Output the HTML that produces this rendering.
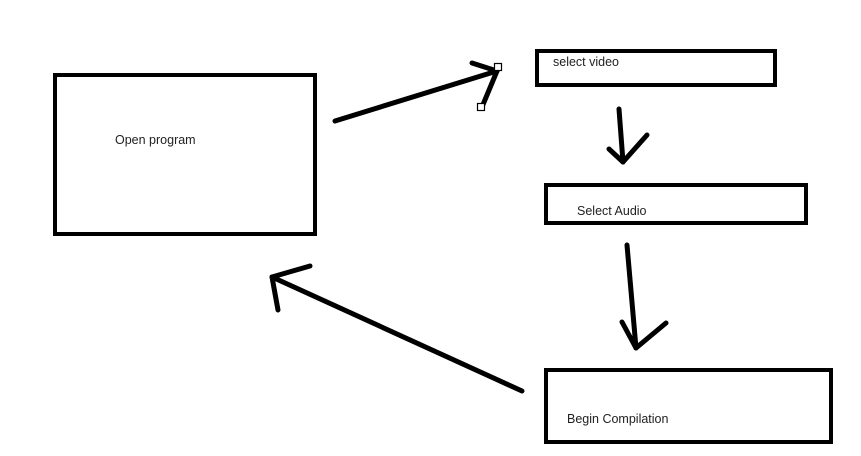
<!DOCTYPE html>
<html><head><style>
html,body{margin:0;padding:0;background:#fff;}
body{width:861px;height:456px;position:relative;overflow:hidden;font-family:"Liberation Sans",sans-serif;}
</style></head><body>
<svg width="861" height="456" style="position:absolute;left:0;top:0">
<g fill="none" stroke="#000" stroke-width="4">
<rect x="55" y="75" width="260" height="159"/>
<rect x="537" y="51" width="238" height="34"/>
<rect x="546" y="185" width="260" height="38"/>
<rect x="546" y="370" width="285" height="72"/>
</g>
<g fill="none" stroke="#000" stroke-width="5" stroke-linecap="round" stroke-linejoin="round">
<path d="M335 121 L497 71"/>
<path d="M472 63 L497 71"/>
<path d="M497 71 L482 107"/>
<path d="M619 109 L623 162"/>
<path d="M609 149 L623 162 L647 135"/>
<path d="M627 245 L636 348"/>
<path d="M622 322 L636 348 L666 323"/>
<path d="M522 391 L272 277"/>
<path d="M310 266 L272 277 L278 310"/>
</g>
<g fill="#fff" stroke="#000" stroke-width="1.2">
<rect x="494.5" y="63.5" width="7" height="7"/>
<rect x="477.5" y="103.5" width="7" height="7"/>
</g>
<g font-family="Liberation Sans, sans-serif" font-size="12.5" fill="#222">
<text x="115" y="144">Open program</text>
<text x="553" y="66">select video</text>
<text x="577" y="215">Select Audio</text>
<text x="567" y="423">Begin Compilation</text>
</g>
</svg>
</body></html>
